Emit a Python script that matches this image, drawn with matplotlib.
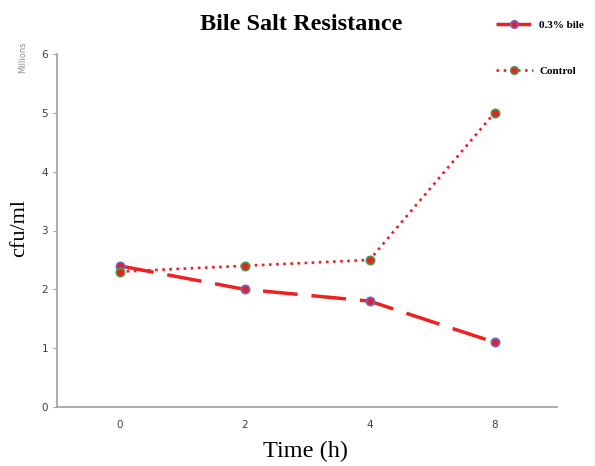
import matplotlib
matplotlib.use("Agg")
import matplotlib.pyplot as plt

times = ["0", "2", "4", "8"]
bile = [2.4, 2.0, 1.8, 1.1]
control = [2.3, 2.4, 2.5, 5.0]
yticks = [0, 1, 2, 3, 4, 5, 6]

fig = plt.figure(figsize=(5.95, 4.66), dpi=100)
ax = fig.add_axes([57/595, 1-407/466, 500/595, (407-54)/466])
x = list(range(len(times)))
ax.plot(x, bile, color="#ee2020", lw=2.5, dashes=(10, 4),
        marker="o", ms=6, mfc="#e02030", mec="#6a6ac8", mew=1.2, label="0.3% bile")
ax.plot(x, control, color="#ee2020", lw=1.9, linestyle=(0, (1, 1.7)),
        marker="o", ms=6, mfc="#e82020", mec="#4a9a4a", mew=1.2, label="Control")
ax.set_xlim(-0.5, 3.5)
ax.set_ylim(0, 6)
ax.set_xticks(x)
ax.set_xticklabels(times)
ax.set_yticks(yticks)
for s in ["top", "right"]:
    ax.spines[s].set_visible(False)
for s in ["left", "bottom"]:
    ax.spines[s].set_color("#a0a0a0")
    ax.spines[s].set_linewidth(1.2)
ax.tick_params(axis="y", colors="#a0a0a0", labelcolor="#404040", labelsize=7.5, length=3, direction="out")
ax.tick_params(axis="x", length=0, labelcolor="#404040", labelsize=7.5, pad=9)
fig.text(306/595, 1-451/466, "Time (h)", family="Liberation Serif", fontsize=17.5,
         ha="center", va="center")
fig.text(20/595, 1-228/466, "cfu/ml", family="Liberation Serif", fontsize=16,
         rotation=90, ha="center", va="center")
fig.text(23/595, 1-57/466, "Millions", fontsize=6, color="#909090",
         rotation=90, ha="center", va="center")
fig.text(301/595, 1-24/466, "Bile Salt Resistance", family="Liberation Serif",
         fontsize=17.5, fontweight="bold", ha="center", va="center")
leg = fig.legend(loc="upper left", bbox_to_anchor=(486/595, 1-10/466), frameon=False,
                 prop={"family": "Liberation Serif", "weight": "bold", "size": 8},
                 labelspacing=3.3, handlelength=3.3, handletextpad=0.6, markerscale=0.9)
fig.savefig("out.png", dpi=100)
